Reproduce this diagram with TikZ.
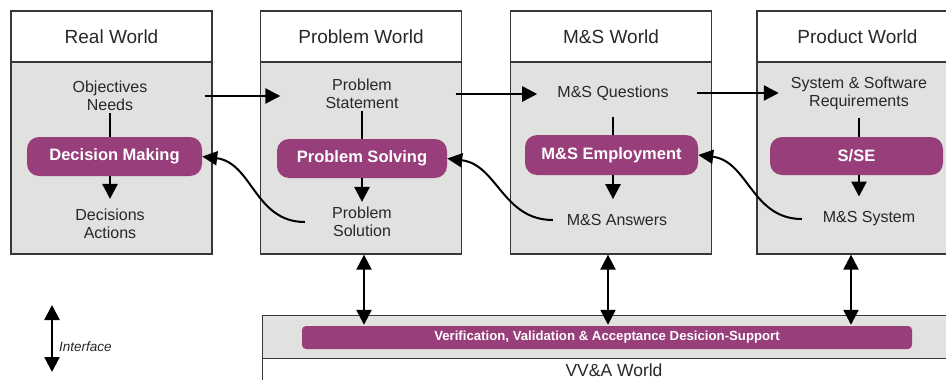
\documentclass[tikz,border=0pt]{standalone}
\usepackage{fontspec}
\setmainfont{Liberation Sans}
\usetikzlibrary{arrows.meta}
\definecolor{plum}{RGB}{152,62,122}
\definecolor{panel}{RGB}{225,225,223}
\definecolor{edge}{RGB}{55,55,55}
\definecolor{ink}{RGB}{40,40,40}
\begin{document}
\begin{tikzpicture}[x=1pt,y=-1pt,
  body/.style={draw=edge, line width=1.3pt, fill=panel, inner sep=0pt},
  head/.style={draw=edge, line width=1.3pt, fill=white, inner sep=0pt,
    text=ink, font=\fontsize{19}{21}\selectfont},
  item/.style={text=ink, align=center, inner sep=2pt,
    font=\fontsize{16}{18}\selectfont},
  pill/.style={fill=plum, rounded corners=12pt, text=white, inner sep=0pt,
    font=\bfseries\fontsize{16.5}{18}\selectfont},
  link/.style={line width=2.6pt, draw=black},
  flow/.style={line width=2.6pt, draw=black, -{Triangle[width=15pt,length=15pt]}},
  back/.style={line width=2pt, draw=black, -{Triangle[width=14pt,length=15pt]}},
  dflow/.style={line width=2.4pt, draw=black,
    {Triangle[width=15pt,length=15pt]}-{Triangle[width=15pt,length=15pt]}}
]
\useasboundingbox (0,0) rectangle (946,380);
\fill[white] (0,0) rectangle (946,380);

% ---- the four worlds ----
\node[body, minimum width=201pt, minimum height=192pt] (rwb) at (111.5,158) {};
\node[head, minimum width=201pt, minimum height=51pt] (rwh) at (111.5,36.5) {Real World};
\node[body, minimum width=201pt, minimum height=192pt] (pwb) at (361,158) {};
\node[head, minimum width=201pt, minimum height=51pt] (pwh) at (361,36.5) {Problem World};
\node[body, minimum width=201pt, minimum height=192pt] (msb) at (611,158) {};
\node[head, minimum width=201pt, minimum height=51pt] (msh) at (611,36.5) {M\&S World};
\node[body, minimum width=201pt, minimum height=192pt] (prb) at (857.5,158) {};
\node[head, minimum width=201pt, minimum height=51pt] (prh) at (857.5,36.5) {Product World};

% ---- contents ----
\node[item] (obj) at (110,96) {Objectives\\Needs};
\node[pill, minimum width=175pt, minimum height=39pt] (dm) at (114.5,156.5) {Decision Making};
\node[item] (dec) at (110,224) {Decisions\\Actions};

\node[item] (stmt) at (362,94) {Problem\\Statement};
\node[pill, minimum width=170pt, minimum height=39pt] (ps) at (362,158.5) {Problem Solving};
\node[item, minimum width=114pt] (sol) at (362,222) {Problem\\Solution};

\node[item] (q) at (613,93) {M\&S Questions};
\node[pill, minimum width=173pt, minimum height=40pt] (me) at (611.5,155) {M\&S Employment};
\node[item, minimum width=128pt] (ans) at (617,220) {M\&S Answers};

\node[item] (req) at (859,93) {System \& Software\\Requirements};
\node[pill, minimum width=173pt, minimum height=38pt] (sse) at (856.5,156) {S/SE};
\node[item, minimum width=134pt] (sys) at (869,219) {M\&S System};

% ---- forward flow between worlds ----
\draw[flow, shorten <=55pt, shorten >=43pt] (obj.east) -- (obj.east -| stmt.west);
\draw[flow, shorten <=55pt, shorten >=18pt] (stmt.east) -- (stmt.east -| q.west);
\draw[flow, shorten <=26pt, shorten >=10pt] (q.east) -- (q.east -| req.west);

% ---- flow inside each world ----
\draw[link] (obj.south) -- (obj.south |- dm.north);
\draw[flow, shorten >=8pt] (obj.south |- dm.south) -- (dec.north);
\draw[link] (stmt.south) -- (stmt.south |- ps.north);
\draw[flow, shorten >=3pt] (stmt.south |- ps.south) -- (sol.north);
\draw[link, shorten <=14pt] (q.south) -- (q.south |- me.north);
\draw[flow, shorten >=13pt] (q.south |- me.south) -- (q.south |- ans.north);
\draw[link, shorten <=6pt] (req.south) -- (req.south |- sse.north);
\draw[flow, shorten >=13pt] (req.south |- sse.south) -- (req.south |- sys.north);

% ---- feedback curves ----
\draw[back] (sol.west) .. controls +(-50,0) and +(50,6) .. (dm.east);
\draw[back] (ans.west) .. controls +(-50,0) and +(50,6) .. (ps.east);
\draw[back] (sys.west) .. controls +(-50,0) and +(50,6) .. (me.east);

% ---- VV&A world ----
\node[body, anchor=north west, minimum width=700pt, minimum height=43pt] (vvb) at (262,315) {};
\node[head, anchor=north west, minimum width=700pt, minimum height=40pt] (vvh) at (262,358) {};
\node[text=ink, font=\fontsize{17.5}{19}\selectfont, inner sep=0pt] (vvt) at (614,370) {VV\&A World};
\node[fill=plum, rounded corners=4pt, minimum width=610pt, minimum height=23pt,
  text=white, font=\bfseries\fontsize{13.2}{15}\selectfont, inner sep=0pt] (bar) at (607,337.5)
  {Verification, Validation \& Acceptance Desicion-Support};

% ---- interfaces to VV&A ----
\coordinate (v1) at ([xshift=3pt]pwb.south);
\coordinate (v2) at ([xshift=-3pt]msb.south);
\coordinate (v3) at ([xshift=-6.5pt]prb.south);
\draw[dflow, shorten >=1pt] (v1) -- (v1 |- bar.north);
\draw[dflow, shorten >=1pt] (v2) -- (v2 |- bar.north);
\draw[dflow, shorten >=1pt] (v3) -- (v3 |- bar.north);

% ---- legend ----
\coordinate (ia) at (52,305);
\coordinate (ib) at (52,372);
\draw[dflow] (ia) -- (ib);
\node[anchor=west, text=ink, font=\itshape\fontsize{13.5}{15}\selectfont, inner sep=0pt] (il) at (59,347) {Interface};
\end{tikzpicture}
\end{document}
